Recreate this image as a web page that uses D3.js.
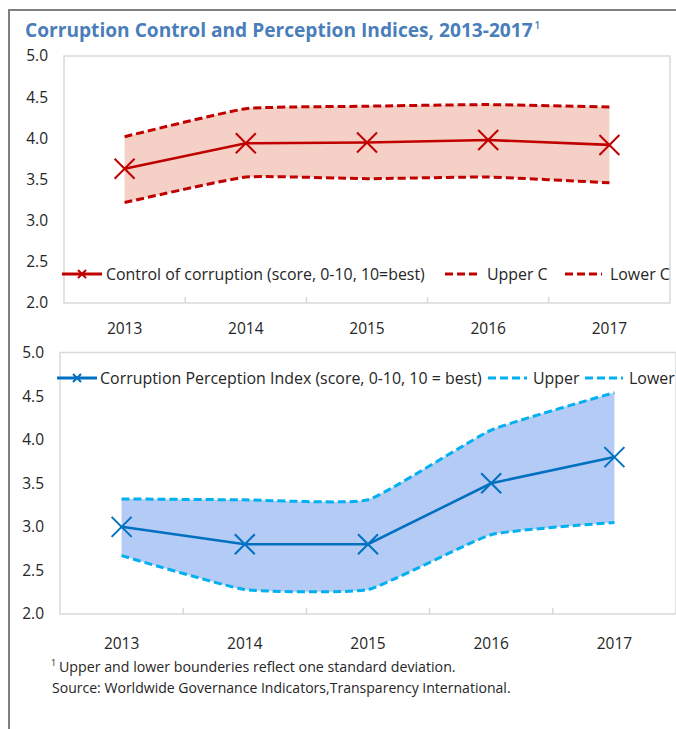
<!DOCTYPE html>
<html>
<head>
<meta charset="utf-8">
<script src="https://cdn.jsdelivr.net/npm/d3@7"></script>
<style>
  html, body { margin: 0; padding: 0; background: #fff; }
  svg { display: block; font-family: "Open Sans", "Noto Sans", sans-serif; }
</style>
</head>
<body>
<svg id="chart" width="676" height="729"></svg>
<script>
// Years on the horizontal axis
const years = ["2013", "2014", "2015", "2016", "2017"];

// Control of corruption (World Governance Indicators), score 0-10
const ccScore = [3.63, 3.94, 3.95, 3.98, 3.92];
const ccUpper = [4.02, 4.36, 4.39, 4.41, 4.38];
const ccLower = [3.22, 3.53, 3.51, 3.53, 3.46];

// Corruption Perception Index (Transparency International), score 0-10
const cpiScore = [3.0, 2.8, 2.8, 3.5, 3.8];
const cpiUpper = [3.32, 3.31, 3.31, 4.11, 4.54];
const cpiLower = [2.67, 2.28, 2.28, 2.91, 3.05];

// Shared value axis
const yTicks = [2.0, 2.5, 3.0, 3.5, 4.0, 4.5, 5.0];
const yDomain = [2, 5];

const titleText = "Corruption Control and Perception Indices, 2013-2017";
const footnote1 = "Upper and lower bounderies reflect one standard deviation.";
const footnote2 = "Source: Worldwide Governance Indicators,Transparency International.";

const svg = d3.select("#chart");
const FONT_TEXT = "#262626";

// Scale a text's font size so its rendered width equals a target width
function fitWidth(sel, target) {
  const w = sel.node().getComputedTextLength();
  const fs = parseFloat(sel.attr("font-size"));
  sel.attr("font-size", fs * target / w);
  return fs * target / w;
}

// Outer frame (top and left rules)
svg.append("line").attr("x1", 8).attr("x2", 676).attr("y1", 10).attr("y2", 10)
  .attr("stroke", "#7f7f7f").attr("stroke-width", 2);
svg.append("line").attr("x1", 9).attr("x2", 9).attr("y1", 10).attr("y2", 729)
  .attr("stroke", "#7f7f7f").attr("stroke-width", 2);

// Title with footnote marker
const title = svg.append("text").attr("x", 25).attr("y", 37)
  .attr("font-size", 18).attr("font-weight", 700).attr("fill", "#4a7ebb")
  .text(titleText);
fitWidth(title, 508);
svg.append("text").attr("x", 25 + 508 + 1.5).attr("y", 29)
  .attr("font-size", 10).attr("font-weight", 600).attr("fill", "#4a7ebb").text("1");

function drawPanel(cfg) {
  const { left, right, top, bottom } = cfg;
  const g = svg.append("g");

  const x = d3.scaleBand().domain(years).range([left, right]);
  const y = d3.scaleLinear().domain(yDomain).range([bottom, top]);
  const cx = d => x(d) + x.bandwidth() / 2;

  // Plot frame
  g.append("rect").attr("x", left).attr("y", top)
    .attr("width", right - left).attr("height", bottom - top)
    .attr("fill", "none").attr("stroke", "#d9d9d9").attr("stroke-width", 1.5);

  // Category separators pointing up from the bottom edge
  g.selectAll(".sep").data(years.slice(1)).join("line")
    .attr("x1", d => x(d)).attr("x2", d => x(d))
    .attr("y1", bottom).attr("y2", bottom - 6)
    .attr("stroke", "#d9d9d9").attr("stroke-width", 1.5);

  // Value axis labels
  const yAxis = g.append("g").attr("transform", `translate(${left},0)`)
    .call(d3.axisLeft(y).tickValues(yTicks).tickFormat(d3.format(".1f"))
      .tickSize(0).tickPadding(16));
  yAxis.select(".domain").remove();
  yAxis.selectAll("text").attr("font-size", 15.5).attr("fill", FONT_TEXT)
    .attr("font-family", "Open Sans");

  // Year labels
  const xAxis = g.append("g").attr("transform", `translate(0,${bottom})`)
    .call(d3.axisBottom(x).tickSize(0).tickPadding(cfg.xPad));
  xAxis.select(".domain").remove();
  xAxis.selectAll("text").attr("font-size", 15.5).attr("fill", FONT_TEXT)
    .attr("font-family", "Open Sans");

  const rows = years.map((yr, i) => ({ yr, v: cfg.score[i], hi: cfg.upper[i], lo: cfg.lower[i] }));

  // Band between the upper and lower bounds (smoothed)
  const curve = d3.curveCardinal.tension(0.6);
  g.append("path").datum(rows)
    .attr("d", d3.area().x(d => cx(d.yr)).y0(d => y(d.lo)).y1(d => y(d.hi)).curve(curve))
    .attr("fill", cfg.fill);

  // Bounds as dashed lines
  ["hi", "lo"].forEach(k => {
    g.append("path").datum(rows)
      .attr("d", d3.line().x(d => cx(d.yr)).y(d => y(d[k])).curve(curve))
      .attr("fill", "none").attr("stroke", cfg.dash).attr("stroke-width", 3)
      .attr("stroke-dasharray", "8,4");
  });

  // Main series
  g.append("path").datum(rows)
    .attr("d", d3.line().x(d => cx(d.yr)).y(d => y(d.v)))
    .attr("fill", "none").attr("stroke", cfg.color).attr("stroke-width", 2.6);

  // Cross markers
  const m = 10;
  g.selectAll(".mk").data(rows).join("path")
    .attr("d", d => {
      const px = cx(d.yr), py = y(d.v);
      return `M${px - m},${py - m}L${px + m},${py + m}M${px - m},${py + m}L${px + m},${py - m}`;
    })
    .attr("fill", "none").attr("stroke", cfg.color).attr("stroke-width", 2);

  // Legend
  const L = cfg.legend;
  const lg = g.append("g");
  lg.append("line").attr("x1", L.lineX).attr("x2", L.lineX + 40)
    .attr("y1", L.y).attr("y2", L.y).attr("stroke", cfg.color).attr("stroke-width", 3);
  const sm = 4;
  const mx = L.lineX + 20;
  lg.append("path")
    .attr("d", `M${mx - sm},${L.y - sm}L${mx + sm},${L.y + sm}M${mx - sm},${L.y + sm}L${mx + sm},${L.y - sm}`)
    .attr("stroke", cfg.color).attr("stroke-width", 2);
  const t0 = lg.append("text").attr("x", L.textX).attr("y", L.y).attr("dy", "0.35em")
    .attr("font-size", 15).attr("fill", FONT_TEXT).text(cfg.names[0]);
  const fs = fitWidth(t0, L.textW);
  L.dashes.forEach((d, i) => {
    lg.append("line").attr("x1", d.x1).attr("x2", d.x2).attr("y1", L.y).attr("y2", L.y)
      .attr("stroke", cfg.dash).attr("stroke-width", 3).attr("stroke-dasharray", "8,4");
    lg.append("text").attr("x", d.tx).attr("y", L.y).attr("dy", "0.35em")
      .attr("font-size", fs).attr("fill", FONT_TEXT).text(cfg.names[i + 1]);
  });
}

drawPanel({
  left: 64, right: 670, top: 56, bottom: 303, xPad: 20,
  score: ccScore, upper: ccUpper, lower: ccLower,
  color: "#c00000", dash: "#c00000", fill: "#f5d0c6",
  names: ["Control of corruption (score, 0-10, 10=best)", "Upper C", "Lower C"],
  legend: {
    y: 274, lineX: 62, textX: 106, textW: 319,
    dashes: [{ x1: 445, x2: 481, tx: 487 }, { x1: 565, x2: 602, tx: 610 }]
  }
});

drawPanel({
  left: 60, right: 676, top: 352.5, bottom: 614, xPad: 24,
  score: cpiScore, upper: cpiUpper, lower: cpiLower,
  color: "#0070c0", dash: "#00b0f0", fill: "#b4cbf5",
  names: ["Corruption Perception Index (score, 0-10, 10 = best)", "Upper", "Lower"],
  legend: {
    y: 378, lineX: 57, textX: 100, textW: 382,
    dashes: [{ x1: 488, x2: 527, tx: 533 }, { x1: 585, x2: 623, tx: 629 }]
  }
});

// Footnotes
svg.append("text").attr("x", 51).attr("y", 666).attr("font-size", 9)
  .attr("fill", FONT_TEXT).text("1");
const f1 = svg.append("text").attr("x", 59).attr("y", 671.5).attr("font-size", 13)
  .attr("fill", FONT_TEXT).text(footnote1);
fitWidth(f1, 397);
const f2 = svg.append("text").attr("x", 52).attr("y", 692.5).attr("font-size", 13)
  .attr("fill", FONT_TEXT).text(footnote2);
fitWidth(f2, 459);
</script>
</body>
</html>
